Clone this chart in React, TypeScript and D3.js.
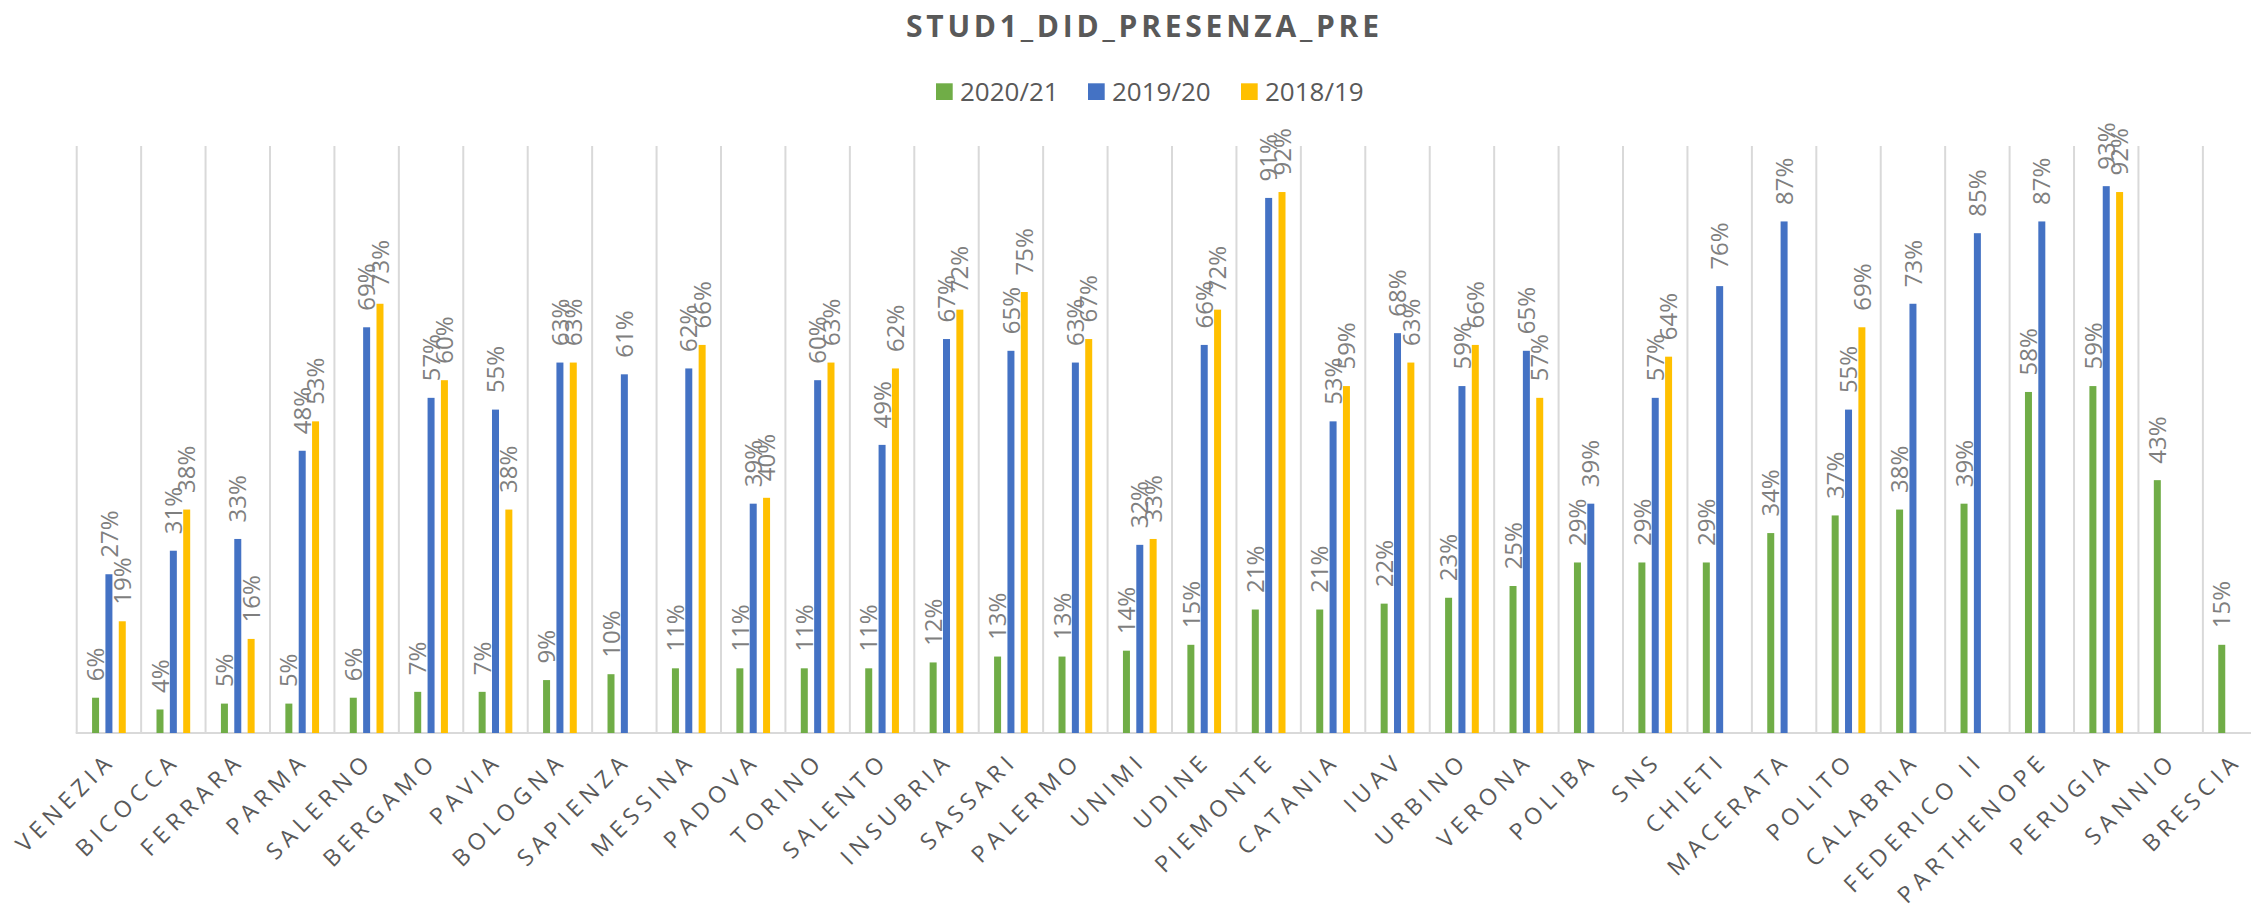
import { useEffect, useRef } from "react";
import * as d3 from "d3";

const categories = [
  "VENEZIA", "BICOCCA", "FERRARA", "PARMA", "SALERNO", "BERGAMO", "PAVIA",
  "BOLOGNA", "SAPIENZA", "MESSINA", "PADOVA", "TORINO", "SALENTO", "INSUBRIA",
  "SASSARI", "PALERMO", "UNIMI", "UDINE", "PIEMONTE", "CATANIA", "IUAV",
  "URBINO", "VERONA", "POLIBA", "SNS", "CHIETI", "MACERATA", "POLITO",
  "CALABRIA", "FEDERICO II", "PARTHENOPE", "PERUGIA", "SANNIO", "BRESCIA",
];

const seriesNames = ["2020/21", "2019/20", "2018/19"];
const seriesColors = ["#70AD47", "#4472C4", "#FFC000"];

// values in %, null = no bar
const v2021: (number | null)[] = [
  6, 4, 5, 5, 6, 7, 7, 9, 10, 11, 11, 11, 11, 12, 13, 13, 14, 15, 21, 21, 22,
  23, 25, 29, 29, 29, 34, 37, 38, 39, 58, 59, 43, 15,
];
const v1920: (number | null)[] = [
  27, 31, 33, 48, 69, 57, 55, 63, 61, 62, 39, 60, 49, 67, 65, 63, 32, 66, 91,
  53, 68, 59, 65, 39, 57, 76, 87, 55, 73, 85, 87, 93, null, null,
];
const v1819: (number | null)[] = [
  19, 38, 16, 53, 73, 60, 38, 63, null, 66, 40, 63, 62, 72, 75, 67, 33, 72, 92,
  59, 63, 66, 57, null, 64, null, null, 69, null, null, null, 92, null, null,
];

const W = 2251;
const H = 908;

export default function App() {
  const svgRef = useRef<SVGSVGElement>(null);

  useEffect(() => {
    if (!svgRef.current) return;
    const svg = d3.select(svgRef.current);
    svg.selectAll("*").remove();

    const left = 76.7;
    const step = 64.43;
    const top = 145;
    const bottom = 733;
    const font = "'Open Sans', sans-serif";

    const x = d3
      .scaleBand<string>()
      .domain(categories)
      .range([left, left + step * categories.length])
      .padding(0);

    const x1 = d3
      .scaleBand<string>()
      .domain(seriesNames)
      .range([-16.85, 16.85])
      .paddingInner(0.476);

    const y = d3.scaleLinear().domain([0, 100]).range([bottom, top]);

    svg.append("rect").attr("width", W).attr("height", H).attr("fill", "#fff");

    // Title
    svg
      .append("text")
      .attr("x", 906)
      .attr("y", 36.7)
      .attr("textLength", 473)
      .attr("lengthAdjust", "spacing")
      .attr("font-family", font)
      .attr("font-weight", 700)
      .attr("font-size", 30)
      .attr("fill", "#595959")
      .text("STUD1_DID_PRESENZA_PRE");

    // Legend
    const legendX = [936, 1088, 1241];
    seriesNames.forEach((name, i) => {
      const g = svg.append("g").attr("transform", `translate(${legendX[i]},0)`);
      g.append("rect")
        .attr("x", 0)
        .attr("y", 83.3)
        .attr("width", 16.7)
        .attr("height", 16.7)
        .attr("fill", seriesColors[i]);
      g.append("text")
        .attr("x", 24)
        .attr("y", 100.7)
        .attr("font-family", font)
        .attr("font-size", 26)
        .attr("fill", "#595959")
        .text(name);
    });

    // Vertical gridlines at category boundaries
    const bounds = categories.map((c) => x(c) as number);
    svg
      .append("g")
      .selectAll("line")
      .data(bounds)
      .enter()
      .append("line")
      .attr("x1", (d) => d)
      .attr("x2", (d) => d)
      .attr("y1", 146)
      .attr("y2", bottom)
      .attr("stroke", "#d9d9d9")
      .attr("stroke-width", 2);

    // Baseline
    svg
      .append("line")
      .attr("x1", left - 1)
      .attr("x2", W)
      .attr("y1", bottom)
      .attr("y2", bottom)
      .attr("stroke", "#d9d9d9")
      .attr("stroke-width", 2);

    const all = [v2021, v1920, v1819];

    // Bars + data labels
    all.forEach((vals, si) => {
      const pts = categories
        .map((c, i) => ({ c, v: vals[i] }))
        .filter((d) => d.v !== null) as { c: string; v: number }[];
      const bx = (d: { c: string }) =>
        (x(d.c) as number) + x.bandwidth() / 2 + (x1(seriesNames[si]) as number);

      svg
        .append("g")
        .selectAll("rect")
        .data(pts)
        .enter()
        .append("rect")
        .attr("x", bx)
        .attr("y", (d) => y(d.v))
        .attr("width", x1.bandwidth())
        .attr("height", (d) => bottom - y(d.v))
        .attr("fill", seriesColors[si]);

      svg
        .append("g")
        .selectAll("text")
        .data(pts)
        .enter()
        .append("text")
        .attr(
          "transform",
          (d) => `translate(${bx(d) + x1.bandwidth() / 2},${y(d.v) - 16.5}) rotate(-90)`
        )
        .attr("dy", "0.36em")
        .attr("font-family", font)
        .attr("font-size", 24)
        .attr("fill", "#7f7f7f")
        .text((d) => `${d.v}%`);
    });

    // Category labels
    const ls = 5.5;
    svg
      .append("g")
      .selectAll("text")
      .data(categories)
      .enter()
      .append("text")
      .attr(
        "transform",
        (c) => `translate(${(x(c) as number) + x.bandwidth() / 2 + 4},766) rotate(-45)`
      )
      .attr("x", ls)
      .attr("text-anchor", "end")
      .attr("font-family", font)
      .attr("font-size", 23)
      .attr("letter-spacing", ls)
      .attr("fill", "#595959")
      .text((c) => c);
  }, []);

  return (
    <svg
      ref={svgRef}
      width={W}
      height={H}
      style={{ position: "absolute", left: 0, top: 0, display: "block" }}
    />
  );
}
